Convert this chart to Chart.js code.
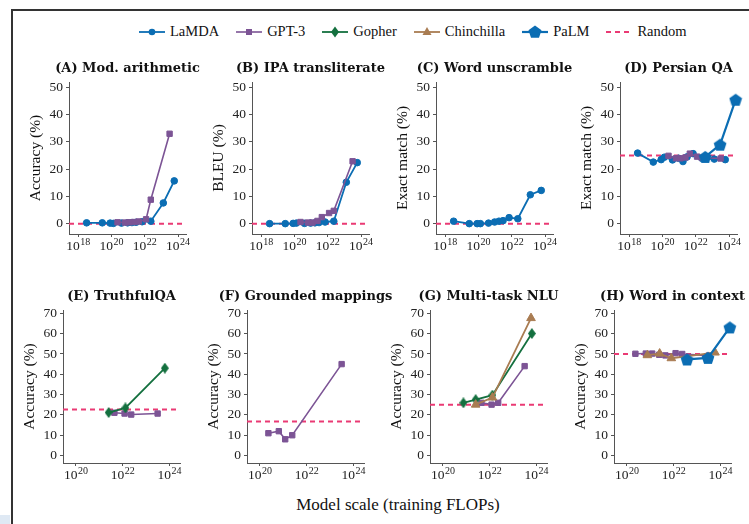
<!DOCTYPE html>
<html><head><meta charset="utf-8">
<script src="https://cdn.jsdelivr.net/npm/chart.js@4.4.0/dist/chart.umd.min.js"></script>
<style>
html,body{margin:0;padding:0;background:#fff;}
body{width:749px;height:524px;position:relative;overflow:hidden;font-family:"Liberation Serif",serif;color:#111;}
.frameL{position:absolute;left:11px;top:9px;width:2px;height:515px;background:#333;}
.frameT{position:absolute;left:11px;top:9px;width:738px;height:2px;background:#333;}
.corner{position:absolute;left:0;top:515px;width:10px;height:9px;background:#dfe9f4;}
canvas.panel{position:absolute;}
#legend{position:absolute;top:23px;left:138px;display:flex;align-items:center;font-size:14.5px;white-space:nowrap;}
.item{display:flex;align-items:center;margin-right:16px;}
.item svg{margin-right:4px;}
#xlabel{position:absolute;top:495px;left:0;width:796px;text-align:center;font-size:17px;}
</style>
</head>
<body>
<div class="frameL"></div><div class="frameT"></div><div class="corner"></div>
<div id="legend"></div>
<div id="xlabel">Model scale (training FLOPs)</div>
<script>
// ---- model scales (training FLOPs) ----
const lamdaFlops = [3.2e18, 2.8e19, 8.3e19, 1.3e20, 4.0e20, 9.3e20, 1.7e21, 3.0e21, 6.9e21, 2.3e22, 1.3e23, 5.9e23];
const gpt3Flops = [2.3e20, 6.4e20, 1.2e21, 2.4e21, 4.4e21, 1.2e22, 2.3e22, 3.1e23];
const gopherFlops = [7.5e20, 2.5e21, 1.3e22, 6.3e23];
const chinchillaFlops = [7.5e20, 2.5e21, 7.9e21, 1.3e22, 5.8e23];
const palmFlops = [3.7e22, 2.9e23, 2.5e24];

// ---- text ----
const seriesNames = ['LaMDA', 'GPT-3', 'Gopher', 'Chinchilla', 'PaLM', 'Random'];
const panelTitles = ['(A) Mod. arithmetic', '(B) IPA transliterate', '(C) Word unscramble', '(D) Persian QA',
                     '(E) TruthfulQA', '(F) Grounded mappings', '(G) Multi-task NLU', '(H) Word in context'];
const yAxisTitles = ['Accuracy (%)', 'BLEU (%)', 'Exact match (%)', 'Exact match (%)',
                     'Accuracy (%)', 'Accuracy (%)', 'Accuracy (%)', 'Accuracy (%)'];
const randomBaseline = [0, 0, 0, 25, 22.6, 16.7, 25, 50];

// ---- ticks (x labels are "10" with a superscript exponent) ----
const xTicksTop = [1e18, 1e20, 1e22, 1e24];
const xTickExpTop = ['18', '20', '22', '24'];
const xTicksBottom = [1e20, 1e22, 1e24];
const xTickExpBottom = ['20', '22', '24'];
const yTicksTop = [0, 10, 20, 30, 40, 50];
const yTicksBottom = [0, 10, 20, 30, 40, 50, 60, 70];

// ---- series values (aligned with the model-scale arrays; null = not evaluated) ----
const modArithLamda = [0.3, 0.3, 0.2, 0.1, 0.2, 0.3, 0.4, 0.5, 0.7, 0.9, 7.6, 15.7];
const modArithGpt3 = [0.5, 0.4, 0.5, 0.6, 0.8, 1.6, 8.8, 33.0];
const ipaLamda = [0, 0, 0.1, 0.2, 0.1, 0.2, 0.3, 0.4, 0.6, 0.9, 15.2, 22.4];
const ipaGpt3 = [0.6, 0.4, 0.4, 1.0, 2.4, 3.9, 4.7, 22.9];
const unscrambleLamda = [0.9, 0, 0, 0, 0.2, 0.6, 0.9, 1.1, 2.2, 1.8, 10.6, 12.2];
const persianLamda = [25.9, 22.6, 23.5, 24.4, 23.4, 24.0, 22.8, 24.5, 25.7, 24.0, 23.7, 23.5];
const persianGpt3 = [24.9, 24.0, 24.0, 24.3, 25.7, 24.6, 24.2, 23.9];
const persianPalm = [24.5, 29.0, 45.5];
const truthfulGopher = [null, 21.1, 23.4, 43.0];
const truthfulGpt3 = [null, null, null, null, 21.0, 20.6, 20.1, 20.6];
const groundedGpt3 = [10.9, 11.9, 7.9, 9.9, null, null, null, 45.0];
const mmluGopher = [25.9, 27.5, 29.7, 60.1];
const mmluChinchilla = [null, 25.0, null, 28.5, 67.7];
const mmluGpt3 = [null, null, null, null, 25.9, 25.0, 25.9, 44.0];
const wicGpt3 = [50.1, 50.2, 50.2, 49.6, 49.3, 50.4, 50.0, 49.2];
const wicChinchilla = [49.4, 50.2, 47.9, null, 50.7];
const wicPalm = [47.3, 48.1, 63.1];

const flopsOf = {'LaMDA': lamdaFlops, 'GPT-3': gpt3Flops, 'Gopher': gopherFlops, 'Chinchilla': chinchillaFlops, 'PaLM': palmFlops};

// ---- styles ----
function pentagonImg(color, size) {
  const c = document.createElement('canvas'); c.width = c.height = size;
  const g = c.getContext('2d'); const r = size / 2 - 0.3, cx = size / 2, cy = size / 2 + 0.6;
  g.beginPath();
  for (let i = 0; i < 5; i++) { const a = -Math.PI / 2 + i * 2 * Math.PI / 5; const x = cx + r * Math.cos(a), y = cy + r * Math.sin(a); i ? g.lineTo(x, y) : g.moveTo(x, y); }
  g.closePath(); g.fillStyle = color; g.fill(); return c;
}
function diamondImg(color, w, h) {
  const c = document.createElement('canvas'); c.width = w; c.height = h;
  const g = c.getContext('2d'); g.beginPath();
  g.moveTo(w / 2, 0); g.lineTo(w, h / 2); g.lineTo(w / 2, h); g.lineTo(0, h / 2); g.closePath();
  g.fillStyle = color; g.fill(); return c;
}
const styles = {
  'LaMDA':      {color: '#0b6db3', width: 1.8, order: 5},
  'GPT-3':      {color: '#7c5495', width: 1.6, order: 4},
  'Gopher':     {color: '#14703f', width: 1.8, order: 3},
  'Chinchilla': {color: '#a97c52', width: 1.8, order: 2},
  'PaLM':       {color: '#0b6db3', width: 2.2, order: 1},
  'Random':     {color: '#ea3a74'}
};
styles['LaMDA'].point = 'circle'; styles['LaMDA'].radius = 3.3;
styles['GPT-3'].point = 'rect'; styles['GPT-3'].radius = 3.8;
styles['Gopher'].point = diamondImg(styles['Gopher'].color, 8, 11); styles['Gopher'].radius = 5;
styles['Chinchilla'].point = 'triangle'; styles['Chinchilla'].radius = 5;
styles['PaLM'].point = pentagonImg(styles['PaLM'].color, 14); styles['PaLM'].radius = 7;

// ---- panel table ----
const panelSeries = [
  [['LaMDA', modArithLamda], ['GPT-3', modArithGpt3]],
  [['LaMDA', ipaLamda], ['GPT-3', ipaGpt3]],
  [['LaMDA', unscrambleLamda]],
  [['LaMDA', persianLamda], ['GPT-3', persianGpt3], ['PaLM', persianPalm]],
  [['GPT-3', truthfulGpt3], ['Gopher', truthfulGopher]],
  [['GPT-3', groundedGpt3]],
  [['GPT-3', mmluGpt3], ['Gopher', mmluGopher], ['Chinchilla', mmluChinchilla]],
  [['GPT-3', wicGpt3], ['Chinchilla', wicChinchilla], ['PaLM', wicPalm]]
];

const rowGeom = [
  {top: 50, height: 215, padTop: 32, xAxisH: 31, lefts: [19, 202, 386, 570],
   xMin: 2.8e17, xMax: 3.0e24, yMin: -3.8, yMax: 52, xt: xTicksTop, xe: xTickExpTop, yt: yTicksTop},
  {top: 280, height: 215, padTop: 30, xAxisH: 32, lefts: [13, 197, 380, 564],
   xMin: 2.8e19, xMax: 2.8e24, yMin: -3.8, yMax: 71.7, xt: xTicksBottom, xe: xTickExpBottom, yt: yTicksBottom}
];
const PAD_L = 8, Y_W = 42, PLOT_W = 117, PAD_R = 28;

const panelDecor = {
  id: 'panelDecor',
  beforeDatasetsDraw(chart, args, opts) {
    const {ctx, chartArea: {left, right}, scales: {y}} = chart;
    const py = y.getPixelForValue(opts.random);
    ctx.save(); ctx.strokeStyle = styles['Random'].color; ctx.lineWidth = 2; ctx.setLineDash([5, 4]);
    ctx.beginPath(); ctx.moveTo(left, py); ctx.lineTo(right, py); ctx.stroke(); ctx.restore();
  },
  afterDraw(chart, args, opts) {
    const {ctx, chartArea: {left, right, top, bottom}, scales: {x}} = chart;
    ctx.save(); ctx.font = 'bold 13px "DejaVu Serif"'; ctx.fillStyle = '#111';
    ctx.textAlign = 'center'; ctx.textBaseline = 'middle';
    ctx.fillText(opts.title, (left + right) / 2, top - 13.5);
    // x tick labels: base "10" with superscript exponent, placed by the x scale
    ctx.fillStyle = '#222'; ctx.textAlign = 'left'; ctx.textBaseline = 'alphabetic';
    const baseFont = '13.5px "Liberation Serif"', expFont = '10px "Liberation Serif"';
    opts.xt.forEach((v, i) => {
      const px = x.getPixelForValue(v);
      ctx.font = baseFont; const wb = ctx.measureText('10').width;
      ctx.font = expFont; const we = ctx.measureText(opts.xe[i]).width;
      const x0 = px - (wb + we + 0.5) / 2, base = bottom + 16;
      ctx.font = baseFont; ctx.fillText('10', x0, base);
      ctx.font = expFont; ctx.fillText(opts.xe[i], x0 + wb + 0.5, base - 5.5);
    });
    ctx.restore();
  }
};

const yTickFont = {family: 'Liberation Serif', size: 13.5};
panelSeries.forEach((series, p) => {
  const row = p < 4 ? 0 : 1, col = p % 4, g = rowGeom[row];
  const cv = document.createElement('canvas');
  cv.className = 'panel';
  const W = PAD_L + Y_W + PLOT_W + PAD_R;
  cv.width = W; cv.height = g.height;
  cv.style.left = g.lefts[col] + 'px'; cv.style.top = g.top + 'px';
  cv.style.width = W + 'px'; cv.style.height = g.height + 'px';
  document.body.appendChild(cv);
  const datasets = series.map(([name, vals]) => {
    const st = styles[name];
    const pts = [];
    flopsOf[name].forEach((x, i) => { if (vals[i] !== null && vals[i] !== undefined) pts.push({x: x, y: vals[i]}); });
    return {label: name, data: pts, borderColor: st.color, backgroundColor: st.color,
      borderWidth: st.width, pointStyle: st.point, pointRadius: st.radius, pointBorderWidth: 1,
      pointBorderColor: st.color, pointBackgroundColor: st.color, tension: 0, order: st.order, clip: false};
  });
  new Chart(cv, {
    type: 'line',
    data: {datasets},
    plugins: [panelDecor],
    options: {
      responsive: false, animation: false, devicePixelRatio: 1,
      layout: {padding: {left: PAD_L, top: g.padTop, right: PAD_R, bottom: 0}},
      plugins: {legend: {display: false}, tooltip: {enabled: false},
        panelDecor: {title: panelTitles[p], random: randomBaseline[p], xt: g.xt, xe: g.xe}},
      scales: {
        x: {type: 'logarithmic', min: g.xMin, max: g.xMax,
          afterBuildTicks: s => { s.ticks = g.xt.map(v => ({value: v})); },
          afterFit: s => { s.height = g.xAxisH; },
          ticks: {display: false},
          grid: {drawOnChartArea: false, drawTicks: true, tickLength: 3, color: '#555', lineWidth: 1},
          border: {display: true, color: '#555', width: 1}},
        y: {type: 'linear', min: g.yMin, max: g.yMax,
          afterBuildTicks: s => { s.ticks = g.yt.map(v => ({value: v})); },
          afterFit: s => { s.width = Y_W; },
          ticks: {font: yTickFont, color: '#222', padding: 3},
          title: {display: true, text: yAxisTitles[p], font: {family: 'Liberation Serif', size: 15.5}, color: '#111', padding: 0},
          grid: {drawOnChartArea: false, drawTicks: true, tickLength: 3, color: '#555', lineWidth: 1},
          border: {display: true, color: '#555', width: 1}}
      }
    }
  });
});

// ---- legend ----
const legend = document.getElementById('legend');
function markerSvg(name) {
  const c = styles[name].color;
  let m = '';
  if (name === 'LaMDA') m = `<circle cx="14" cy="7" r="3.3" fill="${c}"/>`;
  if (name === 'GPT-3') m = `<rect x="11" y="4" width="6" height="6" fill="${c}"/>`;
  if (name === 'Gopher') m = `<polygon points="14,1.5 18,7 14,12.5 10,7" fill="${c}"/>`;
  if (name === 'Chinchilla') m = `<polygon points="14,2 18.5,10 9.5,10" fill="${c}"/>`;
  if (name === 'PaLM') m = `<polygon points="14,0.5 20.5,5.2 18,12.8 10,12.8 7.5,5.2" fill="${c}"/>`;
  const line = name === 'Random'
    ? `<line x1="1" y1="7" x2="27" y2="7" stroke="${c}" stroke-width="2" stroke-dasharray="5,4"/>`
    : `<line x1="1" y1="7" x2="27" y2="7" stroke="${c}" stroke-width="${styles[name].width}"/>`;
  return `<svg width="28" height="14" viewBox="0 0 28 14">${line}${m}</svg>`;
}
seriesNames.forEach(name => {
  const it = document.createElement('div'); it.className = 'item';
  it.innerHTML = markerSvg(name) + '<span>' + name + '</span>';
  legend.appendChild(it);
});
</script>
</body></html>
